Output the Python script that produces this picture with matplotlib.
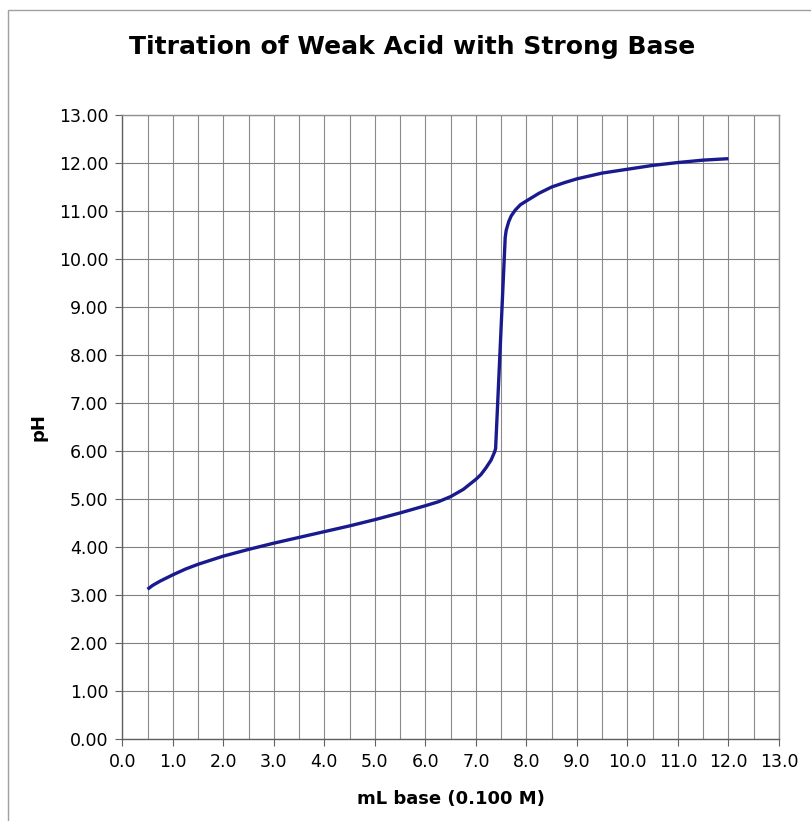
import matplotlib
matplotlib.use("Agg")
import matplotlib.pyplot as plt
from matplotlib.patches import Rectangle

ml_base = [0.5, 0.6, 0.75, 1.0, 1.25, 1.5, 2.0, 2.5, 3.0, 3.5, 4.0, 4.5, 5.0, 5.5,
           6.0, 6.25, 6.5, 6.75, 7.0, 7.1, 7.2, 7.3, 7.37, 7.39, 7.58, 7.6, 7.65,
           7.7, 7.78, 7.88, 8.0, 8.25, 8.5, 8.75, 9.0, 9.5, 10.0, 10.5, 11.0, 11.5, 12.0]
ph = [3.12, 3.20, 3.29, 3.42, 3.54, 3.64, 3.81, 3.95, 4.08, 4.20, 4.32, 4.44, 4.57, 4.71,
      4.86, 4.94, 5.05, 5.20, 5.41, 5.51, 5.65, 5.81, 5.98, 6.05, 10.45, 10.60, 10.78,
      10.90, 11.02, 11.13, 11.21, 11.37, 11.50, 11.59, 11.67, 11.79, 11.87, 11.95, 12.01,
      12.06, 12.09]

x_ticks = [i * 1.0 for i in range(14)]
y_ticks = [i * 1.0 for i in range(14)]
x_minor = [i + 0.5 for i in range(13)]

plt.rcParams['font.family'] = ['DejaVu Sans']

W, H = 812, 821
fig = plt.figure(figsize=(W / 100, H / 100), dpi=100)
fig.patch.set_facecolor('white')

# outer chart border
fig.add_artist(Rectangle((8 / W, -0.1), 1.2, 1 - 10 / H + 0.1, transform=fig.transFigure,
                         fill=False, edgecolor='#a0a0a0', linewidth=1.0))

ax = fig.add_axes([122.3 / W, 1 - 739 / H, (779 - 122.3) / W, (739 - 115) / H])
ax.set_xlim(0, 13)
ax.set_ylim(0, 13)

ax.set_xticks(x_ticks)
ax.set_xticks(x_minor, minor=True)
ax.set_yticks(y_ticks)
ax.set_xticklabels([f"{v:.1f}" for v in x_ticks], fontsize=12.5)
ax.set_yticklabels([f"{v:.2f}" for v in y_ticks], fontsize=12.5)
ax.tick_params(axis='both', which='major', direction='out', length=5, width=0.8,
               color='#606060', pad=5)
ax.tick_params(axis='x', which='minor', length=0)

ax.grid(True, which='both', axis='x', color='#8a8a8a', linewidth=0.8)
ax.grid(True, which='major', axis='y', color='#808080', linewidth=0.8)
ax.set_axisbelow(True)

for side in ['left', 'bottom']:
    ax.spines[side].set_color('#606060')
    ax.spines[side].set_linewidth(1.0)
for side in ['right', 'top']:
    ax.spines[side].set_color('#909090')
    ax.spines[side].set_linewidth(1.0)

ax.plot(ml_base, ph, color='#1a1a8f', linewidth=2.4, solid_capstyle='butt',
        solid_joinstyle='round')

ax.set_xlabel("mL base (0.100 M)", fontsize=13, fontweight='bold', labelpad=14)
ax.set_ylabel("pH", fontsize=13, fontweight='bold', labelpad=8)

fig.text(412 / W, 1 - 47 / H, "Titration of Weak Acid with Strong Base",
         ha='center', va='center', fontsize=18, fontweight='bold')

fig.savefig("out.png", dpi=100)
